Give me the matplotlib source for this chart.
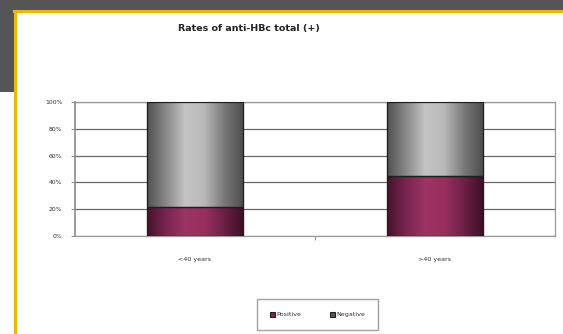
import numpy as np
import matplotlib
matplotlib.use("Agg")
import matplotlib.pyplot as plt
from matplotlib.patches import Rectangle
from matplotlib.lines import Line2D
from matplotlib.colors import LinearSegmentedColormap

# anti-HBc total by age group (percent of each group)
groups = ["<40 years", ">40 years"]
positive = [22, 45]
negative = [78, 55]
series_names = ["Positive", "Negative"]
yticks = [0, 20, 40, 60, 80, 100]

W, H = 563, 334
fig = plt.figure(figsize=(W / 100, H / 100), dpi=100)
fig.patch.set_facecolor("white")

# slide frame: dark header band, left block and orange border
dark = "#555555"
gold = "#f2b705"
fig.patches.append(Rectangle((0, 1 - 10 / H), 1, 10 / H, transform=fig.transFigure,
                             facecolor=dark, edgecolor="none", zorder=0))
fig.patches.append(Rectangle((0, 1 - 92 / H), 14 / W, 92 / H, transform=fig.transFigure,
                             facecolor=dark, edgecolor="none", zorder=0))
fig.lines.append(Line2D([14 / W, 1], [1 - 11 / H, 1 - 11 / H], transform=fig.transFigure,
                        color=gold, lw=2.2, zorder=1))
fig.lines.append(Line2D([15 / W, 15 / W], [0, 1 - 11 / H], transform=fig.transFigure,
                        color=gold, lw=2.2, zorder=1))

ax = fig.add_axes([75 / W, 1 - 236 / H, 480 / W, 134 / H])
x = np.arange(len(groups))
width = 0.4

grey_cmap = LinearSegmentedColormap.from_list(
    "greybar", ["#505050", "#8a8a8a", "#c4c4c4", "#b8b8b8", "#7a7a7a", "#4e4e4e"])
plum_cmap = LinearSegmentedColormap.from_list(
    "plumbar", ["#45142c", "#7a2550", "#9c3363", "#982f5f", "#6e2047", "#3e1027"])

pos_bars = ax.bar(x, positive, width, color="#8b2a58", edgecolor="#222222", lw=0.8,
                  label=series_names[0], zorder=3)
neg_bars = ax.bar(x, negative, width, bottom=positive, color="#9a9a9a", edgecolor="#222222",
                  lw=0.8, label=series_names[1], zorder=3)

# cylinder-like horizontal shading inside each bar
grad = np.linspace(0, 1, 256).reshape(1, -1)
for bars, cmap in ((pos_bars, plum_cmap), (neg_bars, grey_cmap)):
    for b in bars:
        x0, y0 = b.get_x(), b.get_y()
        im = ax.imshow(grad, cmap=cmap, aspect="auto", zorder=3.5,
                       extent=(x0, x0 + b.get_width(), y0, y0 + b.get_height()))
        im.set_clip_path(b)
        edge = Rectangle((x0, y0), b.get_width(), b.get_height(), fill=False,
                         edgecolor="#1e1e1e", lw=0.9, zorder=4)
        ax.add_patch(edge)

ax.set_xlim(-0.5, 1.5)
ax.set_ylim(0, 100)
ax.set_yticks(yticks)
ax.set_yticklabels([f"{v}%" for v in yticks], fontsize=4.4, color="#333333")
ax.set_xticks(x)
ax.set_xticklabels(groups, fontsize=4.6, color="#333333")
ax.tick_params(axis="x", length=0, pad=15)
ax.tick_params(axis="y", length=3, width=0.6, color="#777777", pad=6)
ax.set_xticks([0.5], minor=True)
ax.tick_params(axis="x", which="minor", length=3, width=0.6, color="#777777")

ax.yaxis.grid(True, color="#6a6a6a", lw=0.9, zorder=0)
ax.set_axisbelow(True)
for side in ("top", "right", "bottom"):
    ax.spines[side].set_color("#9a9a9a")
    ax.spines[side].set_linewidth(0.9)
ax.spines["left"].set_color("#8a8a8a")
ax.spines["left"].set_linewidth(1.2)

fig.text(249 / W, 1 - 29 / H, "Rates of anti-HBc total (+)", fontsize=6.8,
         fontweight="bold", ha="center", va="center", color="#222222")

leg = fig.legend(handles=[pos_bars, neg_bars], labels=series_names, loc="center",
                 bbox_to_anchor=(317.5 / W, 1 - 314.5 / H), ncol=2, fontsize=4.6,
                 frameon=True, fancybox=False, edgecolor="#888888", handlelength=0.8,
                 handleheight=0.8, handletextpad=0.2, columnspacing=4.5,
                 borderpad=2.0, labelcolor="#333333")
leg.get_frame().set_linewidth(1.0)
leg.get_frame().set_boxstyle("square", pad=0)
for h in leg.legend_handles:
    h.set_edgecolor("#222222")
leg.legend_handles[0].set_facecolor("#7a2550")
leg.legend_handles[1].set_facecolor("#555555")

fig.savefig("out.png", dpi=100, facecolor=fig.get_facecolor())
